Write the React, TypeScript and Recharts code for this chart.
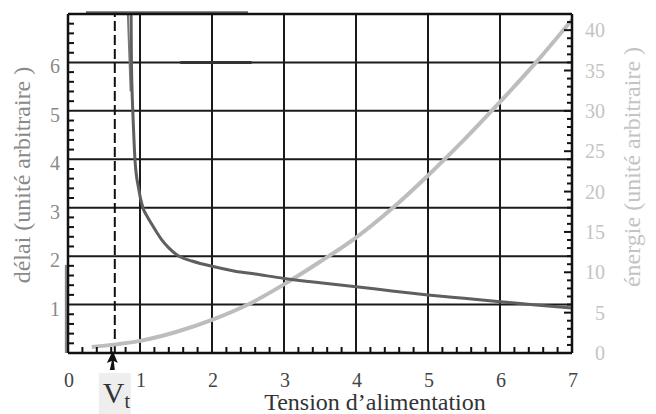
import { ComposedChart, Line, XAxis, YAxis, ReferenceLine, Label } from "recharts"

// délai (unité arbitraire) vs tension
const delayData = [
  { v: 0.875, d: 7.3 },
  { v: 0.88, d: 6.2 },
  { v: 0.89, d: 5.4 },
  { v: 0.9, d: 5.0 },
  { v: 0.93, d: 4.0 },
  { v: 0.98, d: 3.4 },
  { v: 1.04, d: 3.0 },
  { v: 1.1, d: 2.82 },
  { v: 1.16, d: 2.67 },
  { v: 1.23, d: 2.5 },
  { v: 1.3, d: 2.34 },
  { v: 1.4, d: 2.17 },
  { v: 1.51, d: 2.03 },
  { v: 1.6, d: 1.96 },
  { v: 1.72, d: 1.9 },
  { v: 2, d: 1.79 },
  { v: 2.32, d: 1.69 },
  { v: 2.6, d: 1.63 },
  { v: 3, d: 1.54 },
  { v: 3.5, d: 1.45 },
  { v: 4, d: 1.37 },
  { v: 4.5, d: 1.28 },
  { v: 5, d: 1.2 },
  { v: 5.5, d: 1.13 },
  { v: 6, d: 1.06 },
  { v: 6.5, d: 0.99 },
  { v: 7, d: 0.93 },
]

// énergie (unité arbitraire) vs tension
const energyData = [
  { v: 0.33, e: 0.74 },
  { v: 0.7, e: 1.1 },
  { v: 1, e: 1.5 },
  { v: 1.5, e: 2.6 },
  { v: 2, e: 4.1 },
  { v: 2.5, e: 6.0 },
  { v: 3, e: 8.5 },
  { v: 3.5, e: 11.3 },
  { v: 4, e: 14.3 },
  { v: 4.5, e: 17.9 },
  { v: 5, e: 22.0 },
  { v: 5.5, e: 26.4 },
  { v: 6, e: 31.1 },
  { v: 6.5, e: 36.0 },
  { v: 7, e: 41.3 },
]

const xTicks = [
  0, 0.2, 0.4, 0.6, 0.8, 1, 1.2, 1.4, 1.6, 1.8, 2, 2.2, 2.4, 2.6, 2.8, 3, 3.2, 3.4, 3.6, 3.8,
  4, 4.2, 4.4, 4.6, 4.8, 5, 5.2, 5.4, 5.6, 5.8, 6, 6.2, 6.4, 6.6, 6.8, 7,
]
const delayTicks = xTicks
const delayLabels = [1, 2, 3, 4, 5, 6]
const energyTicks = [
  0, 1, 2, 3, 4, 5, 6, 7, 8, 9, 10, 11, 12, 13, 14, 15, 16, 17, 18, 19, 20, 21, 22, 23, 24, 25,
  26, 27, 28, 29, 30, 31, 32, 33, 34, 35, 36, 37, 38, 39, 40, 41, 42,
]
const energyLabels = [0, 5, 10, 15, 20, 25, 30, 35, 40]
const gridX = [1, 2, 3, 4, 5, 6]
const gridY = [1, 2, 3, 4, 5, 6]
const thresholdVoltage = 0.65

const FONT = "'Liberation Serif', 'Times New Roman', serif"
const isWhole = (v: number) => Math.abs(v - Math.round(v)) < 1e-6

function BottomTick(props: any) {
  const { x, y, payload } = props
  const v = payload.value
  if (isWhole(v)) {
    return (
      <text x={x + 1} y={y + 34} textAnchor="middle" fontSize={20} fill="#444" fontFamily={FONT}>
        {v}
      </text>
    )
  }
  return <line x1={x} x2={x} y1={y} y2={y - 6} stroke="#111" strokeWidth={2} />
}

function TopTick(props: any) {
  const { x, y, payload } = props
  if (isWhole(payload.value)) return <g />
  return <line x1={x} x2={x} y1={y} y2={y + 6} stroke="#111" strokeWidth={2} />
}

function LeftTick(props: any) {
  const { x, y, payload } = props
  const v = payload.value
  if (isWhole(v)) {
    if (!delayLabels.includes(Math.round(v))) return <g />
    return (
      <text x={x - 8} y={y + 11} textAnchor="end" fontSize={20} fill="#8a8a8a" fontFamily={FONT}>
        {Math.round(v)}
      </text>
    )
  }
  return <line x1={x} x2={x + 6} y1={y} y2={y} stroke="#111" strokeWidth={2} />
}

function RightTick(props: any) {
  const { x, y, payload } = props
  const v = payload.value
  const major = energyLabels.includes(v)
  return (
    <g>
      <line x1={x} x2={x - (major ? 8 : 5)} y1={y} y2={y} stroke="#111" strokeWidth={2} />
      {major && (
        <text x={x + 33} y={y + 7} textAnchor="end" fontSize={20} fill="#c4c4c4" fontFamily={FONT}>
          {v}
        </text>
      )}
    </g>
  )
}

function VtLabel(props: any) {
  const x = props.viewBox.x
  return (
    <g>
      <rect x={x - 16} y={373} width={32} height={41} fill="#eeeeee" />
      <path
        d={`M ${x - 2} 351 L ${x - 8} 363 L ${x - 3} 361 L ${x - 5} 370 L ${x} 370 L ${x - 1} 361 L ${x + 3} 363 Z`}
        fill="#111"
      />
      <text x={x - 12} y={403} fontSize={30} fill="#333" fontFamily={FONT}>
        V
        <tspan fontSize={20} dy={5}>
          t
        </tspan>
      </text>
    </g>
  )
}

export default function App() {
  return (
    <div style={{ position: "absolute", left: 0, top: 0, background: "#fff" }}>
      <ComposedChart width={656} height={414} margin={{ top: 0, right: 0, bottom: 0, left: 0 }}>
        <XAxis
          xAxisId="bottom"
          dataKey="v"
          type="number"
          domain={[0, 7]}
          allowDataOverflow
          ticks={xTicks}
          interval={0}
          height={61}
          tickSize={0}
          tickMargin={0}
          tickLine={false}
          tick={<BottomTick />}
          axisLine={{ stroke: "#111", strokeWidth: 2.5 }}
        >
          <Label
            content={() => (
              <text x={375} y={410} textAnchor="middle" fontSize={24} fill="#333" fontFamily={FONT}>
                Tension d’alimentation
              </text>
            )}
          />
        </XAxis>
        <XAxis
          xAxisId="top"
          orientation="top"
          type="number"
          domain={[0, 7]}
          allowDataOverflow
          ticks={xTicks}
          interval={0}
          height={14}
          tickSize={0}
          tickMargin={0}
          tickLine={false}
          tick={<TopTick />}
          axisLine={{ stroke: "#111", strokeWidth: 2.5 }}
        />
        <YAxis
          yAxisId="L"
          type="number"
          domain={[0, 7]}
          allowDataOverflow
          ticks={delayTicks}
          interval={0}
          width={68}
          tickSize={0}
          tickMargin={0}
          tickLine={false}
          tick={<LeftTick />}
          axisLine={{ stroke: "#111", strokeWidth: 2.5 }}
        >
          <Label
            content={() => (
              <text
                x={30}
                y={175}
                transform="rotate(-90, 30, 175)"
                textAnchor="middle"
                fontSize={24}
                fill="#8a8a8a"
                fontFamily={FONT}
              >
                délai (unité arbitraire )
              </text>
            )}
          />
        </YAxis>
        <YAxis
          yAxisId="R"
          orientation="right"
          type="number"
          domain={[0, 42]}
          allowDataOverflow
          ticks={energyTicks}
          interval={0}
          width={84}
          tickSize={0}
          tickMargin={0}
          tickLine={false}
          tick={<RightTick />}
          axisLine={{ stroke: "#111", strokeWidth: 2.5 }}
        >
          <Label
            content={() => (
              <text
                x={640}
                y={167}
                transform="rotate(-90, 640, 167)"
                textAnchor="middle"
                fontSize={24}
                fill="#c4c4c4"
                fontFamily={FONT}
              >
                énergie (unité arbitraire )
              </text>
            )}
          />
        </YAxis>

        {gridX.map((g) => (
          <ReferenceLine key={"gx" + g} xAxisId="bottom" yAxisId="L" x={g} stroke="#1a1a1a" strokeWidth={2} />
        ))}
        {gridY.map((g) => (
          <ReferenceLine key={"gy" + g} xAxisId="bottom" yAxisId="L" y={g} stroke="#1a1a1a" strokeWidth={2} />
        ))}
        <ReferenceLine
          xAxisId="bottom"
          yAxisId="L"
          x={thresholdVoltage}
          stroke="#111"
          strokeWidth={2}
          strokeDasharray="10 4"
          label={<VtLabel />}
        />

        {/* traces parasites du tracé d'origine */}
        <ReferenceLine
          xAxisId="bottom"
          yAxisId="L"
          segment={[{ x: 0.25, y: 7.03 }, { x: 2.5, y: 7.03 }]}
          stroke="#666"
          strokeWidth={2.5}
          ifOverflow="visible"
        />
        <ReferenceLine
          xAxisId="bottom"
          yAxisId="L"
          segment={[{ x: 1.56, y: 6 }, { x: 2.55, y: 6 }]}
          stroke="#333"
          strokeWidth={3}
          ifOverflow="visible"
        />
        <ReferenceLine
          xAxisId="bottom"
          yAxisId="L"
          segment={[{ x: 0.83, y: 7.05 }, { x: 0.87, y: 5.4 }]}
          stroke="#777"
          strokeWidth={2}
          ifOverflow="visible"
        />
        <ReferenceLine
          xAxisId="bottom"
          yAxisId="L"
          segment={[{ x: -0.03, y: 0 }, { x: -0.03, y: 1.82 }]}
          stroke="#888"
          strokeWidth={2}
          ifOverflow="visible"
        />

        <Line
          xAxisId="bottom"
          yAxisId="R"
          data={energyData}
          dataKey="e"
          type="monotone"
          stroke="#bdbdbd"
          strokeWidth={4}
          dot={false}
          isAnimationActive={false}
        />
        <Line
          xAxisId="bottom"
          yAxisId="L"
          data={delayData}
          dataKey="d"
          type="monotone"
          stroke="#5f5f5f"
          strokeWidth={3}
          dot={false}
          isAnimationActive={false}
        />
      </ComposedChart>
    </div>
  )
}
